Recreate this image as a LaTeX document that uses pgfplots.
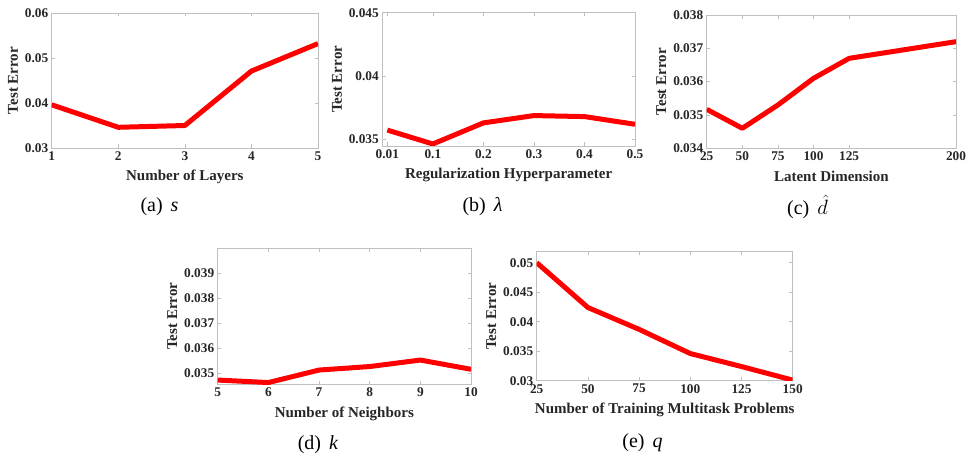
\documentclass[border=0pt]{standalone}
\usepackage{pgfplots}
\pgfplotsset{compat=1.18}
\usepackage{fontspec}
\setmainfont{Liberation Serif}
\definecolor{axgray}{gray}{0.75}
\definecolor{txt}{gray}{0.15}
\definecolor{lred}{rgb}{1,0,0}
\pgfplotsset{
  mystyle/.style={
    scale only axis, anchor=south west,
    axis line style={draw=axgray, line width=0.7pt},
    tick style={draw=axgray, line width=0.6pt},
    major tick length=3.5pt, tick align=inside,
    scaled ticks=false,
    /pgf/number format/assume math mode=true,
    ticklabel style={font=\fontsize{13.3}{14}\selectfont\bfseries, text=txt},
    label style={font=\fontsize{15}{16}\selectfont\bfseries, text=txt},
    xlabel style={yshift=-3pt},
    ylabel style={yshift=0pt},
    ylabel={Test Error},
  },
  redline/.style={draw=lred, line width=5pt, mark=none, line join=round},
}
\begin{document}
\begin{tikzpicture}[x=1pt,y=1pt]
% (a)
\begin{axis}[mystyle, at={(51.7pt,310pt)}, width=266.3pt, height=135pt,
  xmin=1, xmax=5, ymin=0.03, ymax=0.06,
  xtick={1,2,3,4,5}, xticklabels={1,2,3,4,5},
  ytick={0.03,0.04,0.05,0.06}, yticklabels={0.03,0.04,0.05,0.06},
  xlabel={Number of Layers}]
\addplot[redline] coordinates {(1,0.0396) (2,0.0346) (3,0.0350) (4,0.0471) (5,0.0532)};
\end{axis}
% (b)
\begin{axis}[mystyle, at={(382.3pt,312pt)}, width=252.7pt, height=133.3pt,
  xmin=0, xmax=0.5, ymin=0.03444, ymax=0.045,
  xtick={0.01,0.1,0.2,0.3,0.4,0.5}, xticklabels={0.01,0.1,0.2,0.3,0.4,0.5},
  ytick={0.035,0.04,0.045}, yticklabels={0.035,0.04,0.045},
  xlabel={Regularization Hyperparameter}]
\addplot[redline] coordinates {(0.01,0.0357) (0.1,0.0346) (0.2,0.03627) (0.3,0.03685) (0.4,0.03677) (0.5,0.03616)};
\end{axis}
% (c)
\begin{axis}[mystyle, at={(706.7pt,309.7pt)}, width=249.3pt, height=133.3pt,
  xmin=25, xmax=200, ymin=0.034, ymax=0.038,
  xtick={25,50,75,100,125,200}, xticklabels={25,50,75,100,125,200},
  ytick={0.034,0.035,0.036,0.037,0.038}, yticklabels={0.034,0.035,0.036,0.037,0.038},
  xlabel={Latent Dimension}]
\addplot[redline] coordinates {(25,0.03517) (50,0.0346) (75,0.0353) (100,0.0361) (125,0.0367) (200,0.0372)};
\end{axis}
% (d)
\begin{axis}[mystyle, at={(217.7pt,73.7pt)}, width=253.3pt, height=136pt,
  xmin=5, xmax=10, ymin=0.03456, ymax=0.040,
  xtick={5,6,7,8,9,10}, xticklabels={5,6,7,8,9,10},
  ytick={0.035,0.036,0.037,0.038,0.039}, yticklabels={0.035,0.036,0.037,0.038,0.039},
  xlabel={Number of Neighbors}]
\addplot[redline] coordinates {(5,0.03473) (6,0.03463) (7,0.03513) (8,0.03527) (9,0.03553) (10,0.03516)};
\end{axis}
% (e)
\begin{axis}[mystyle, at={(536.7pt,77.3pt)}, width=256pt, height=129pt,
  xmin=25, xmax=150, ymin=0.03, ymax=0.05186,
  xtick={25,50,75,100,125,150}, xticklabels={25,50,75,100,125,150},
  ytick={0.03,0.035,0.04,0.045,0.05}, yticklabels={0.03,0.035,0.04,0.045,0.05},
  xlabel={Number of Training Multitask Problems}]
\addplot[redline] coordinates {(25,0.0500) (50,0.0424) (75,0.0387) (100,0.0346) (125,0.0324) (150,0.0301)};
\end{axis}
% captions
\begin{scope}[every node/.style={font=\fontsize{20}{22}\selectfont, inner sep=0pt}]
\node at (159.5pt,251pt) {(a)\hspace{0.4em}\textit{s}};
\node at (482.5pt,251pt) {(b)\hspace{0.4em}\textit{λ}};
\node at (807.5pt,251pt) {(c)\hspace{0.4em}$\hat{d}$};
\node at (318pt,13pt) {(d)\hspace{0.4em}\textit{k}};
\node at (642.5pt,15pt) {(e)\hspace{0.4em}\textit{q}};
\end{scope}
\pgfresetboundingbox
\path (0pt,0pt) rectangle (968pt,458pt);
\end{tikzpicture}
\end{document}
